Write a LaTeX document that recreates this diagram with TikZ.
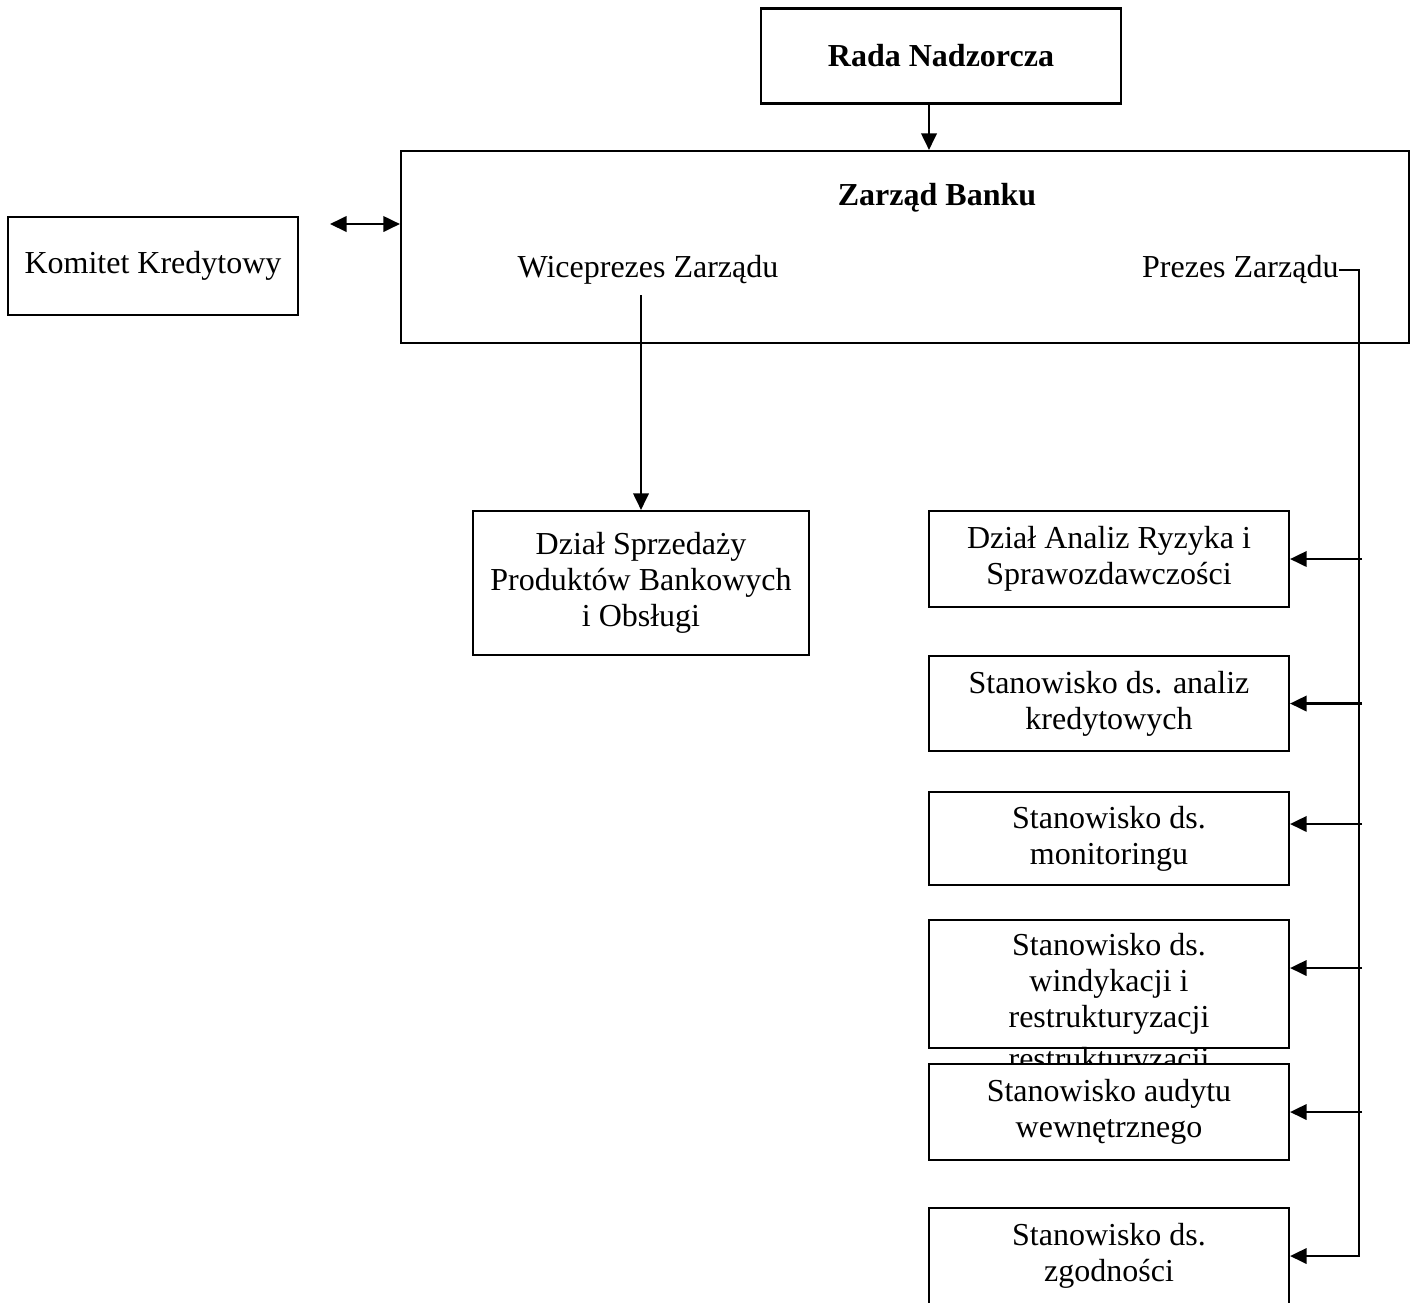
\documentclass[tikz,border=0pt]{standalone}
\usepackage{fontspec}
\setmainfont{Liberation Serif}
\usetikzlibrary{arrows.meta,calc}
\newdimen\px
\px=0.375pt

\begin{document}
\begin{tikzpicture}[x=\px,y=-\px,
  box/.style={draw,line width=0.8pt,fill=white,align=center,inner sep=0pt,
    font=\fontsize{12}{13.5}\selectfont},
  txt/.style={inner sep=0pt,font=\fontsize{12}{13.5}\selectfont},
  arr/.style={line width=0.8pt,-{Triangle[length=6.2pt,width=5.8pt]}},
  darr/.style={line width=0.8pt,{Triangle[length=6.2pt,width=5.8pt]}-{Triangle[length=6.2pt,width=5.8pt]}}]
  \clip (0,0) rectangle (1415,1302);
  % board
  \node[box,minimum width=360\px,minimum height=95\px] (rada) at (941,56) {\textbf{Rada Nadzorcza}};
  \node[box,minimum width=1008\px,minimum height=192\px] (zarzad) at (905,247) {};
  \node[txt] (tytul) at (937,198) {\textbf{Zarząd Banku}};
  \node[txt] (wice) at (648,270) {Wiceprezes Zarządu};
  \node[txt,anchor=east] (prezes) at (1339,270) {Prezes Zarządu};
  \node[box,minimum width=290\px,minimum height=98\px] (komitet) at (153,266) {Komitet Kredytowy};
  % departments
  \node[box,minimum width=336\px,minimum height=144\px] (sprzedaz) at (641,583) {Dział Sprzedaży\\Produktów Bankowych\\i Obsługi};
  \node[box,minimum width=360\px,minimum height=96\px] (analiz) at (1109,559) {Dział Analiz Ryzyka i\\Sprawozdawczości};
  \node[box,minimum width=360\px,minimum height=95\px] (kredyt) at (1109,703.5) {Stanowisko ds. analiz\\kredytowych};
  \node[box,minimum width=360\px,minimum height=93\px] (monit) at (1109,838.5) {Stanowisko ds.\\monitoringu};
  \node[box,minimum width=360\px,minimum height=128\px] (windyk) at (1109,984) {Stanowisko ds.\\windykacji i\\restrukturyzacji};
  \node[txt] (nadmiar) at (1109,1062) {restrukturyzacji};
  \node[box,minimum width=360\px,minimum height=96\px] (audyt) at (1109,1112) {Stanowisko audytu\\wewnętrznego};
  \node[box,minimum width=360\px,minimum height=96\px] (zgod) at (1109,1256) {Stanowisko ds.\\zgodności};
  % connectors
  \coordinate (kk) at (330,224);
  \coordinate (bus) at (1359,270);
  \coordinate (tap) at (1362,0);
  \draw[arr] ([shift={(-12,0)}]rada.south) -- ([shift={(-12,0)}]rada.south |- zarzad.north);
  \draw[darr] (kk) -- (kk -| zarzad.west);
  \draw[arr] (sprzedaz.north |- 0,295) -- (sprzedaz.north);
  \draw[arr] (prezes.east) -- (bus) |- (zgod.east);
  \draw[arr] (tap |- analiz.east) -- (analiz.east);
  \draw[arr] (tap |- kredyt.east) -- (kredyt.east);
  \draw[arr] ($(tap |- monit.east)+(0,-14.5)$) -- ([shift={(0,-14.5)}]monit.east);
  \draw[arr] ($(tap |- windyk.east)+(0,-16)$) -- ([shift={(0,-16)}]windyk.east);
  \draw[arr] (tap |- audyt.east) -- (audyt.east);
\end{tikzpicture}
\end{document}
